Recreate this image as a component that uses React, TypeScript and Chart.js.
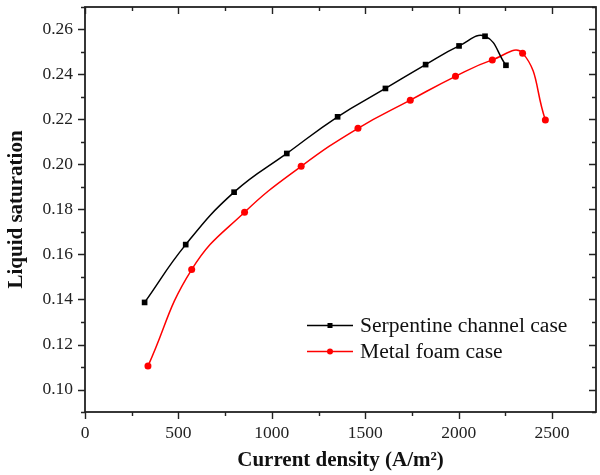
import { useEffect, useRef } from 'react';
import { Chart, registerables } from 'chart.js';

Chart.register(...registerables);

const seriesNames = ['Serpentine channel case', 'Metal foam case'];
const serpentineX = [319, 539, 798, 1080, 1352, 1608, 1823, 2002, 2141, 2253];
const serpentineY = [0.1387, 0.1644, 0.1877, 0.2049, 0.2212, 0.2338, 0.2444, 0.2527, 0.257, 0.2441];
const foamX = [337, 571, 854, 1157, 1461, 1741, 1983, 2180, 2342, 2464];
const foamY = [0.1104, 0.1533, 0.1788, 0.1992, 0.2161, 0.2286, 0.2392, 0.2465, 0.2495, 0.2198];
const xTicks = [0, 500, 1000, 1500, 2000, 2500];
const yTicks = [0.1, 0.12, 0.14, 0.16, 0.18, 0.2, 0.22, 0.24, 0.26];
const xMinorStep = 250;
const yMinorStep = 0.01;
const xTitle = 'Current density (A/m\u00B2)';
const yTitle = 'Liquid saturation';

const SERIF = '"Liberation Serif", "Times New Roman", serif';
const AXIS_COLOR = '#222';

const framePlugin = {
  id: 'frameTicks',
  afterDatasetsDraw(chart: any) {
    const { ctx, chartArea: a, scales } = chart;
    const x = scales.x;
    const y = scales.y;
    const major = 7;
    const minor = 4;
    ctx.save();
    ctx.strokeStyle = AXIS_COLOR;
    ctx.lineWidth = 1.4;
    ctx.beginPath();
    for (let v = xTicks[0]; v <= x.max + 1e-9; v += xMinorStep) {
      const isMajor = xTicks.some((t) => Math.abs(t - v) < 1e-6);
      const len = isMajor ? major : minor;
      const px = Math.round(x.getPixelForValue(v)) + 0.5;
      ctx.moveTo(px, a.bottom);
      ctx.lineTo(px, a.bottom + len);
      ctx.moveTo(px, a.top);
      ctx.lineTo(px, a.top + len);
    }
    const startY = yTicks[0] - Math.floor((yTicks[0] - y.min) / yMinorStep + 1e-6) * yMinorStep;
    for (let v = startY; v <= y.max + 1e-9; v += yMinorStep) {
      const isMajor = yTicks.some((t) => Math.abs(t - v) < 1e-6);
      const len = isMajor ? major : minor;
      const py = Math.round(y.getPixelForValue(v)) + 0.5;
      ctx.moveTo(a.left, py);
      ctx.lineTo(a.left - len, py);
      ctx.moveTo(a.right, py);
      ctx.lineTo(a.right - len, py);
    }
    ctx.stroke();
    ctx.lineWidth = 1.8;
    ctx.strokeRect(a.left, a.top, a.right - a.left, a.bottom - a.top);
    ctx.restore();
  },
  afterDraw(chart: any) {
    const { ctx } = chart;
    ctx.save();
    const rows = [325.5, 351.5];
    chart.data.datasets.forEach((ds: any, i: number) => {
      const cy = rows[i];
      ctx.strokeStyle = ds.borderColor;
      ctx.lineWidth = 1.5;
      ctx.beginPath();
      ctx.moveTo(307, cy);
      ctx.lineTo(353, cy);
      ctx.stroke();
      ctx.fillStyle = ds.borderColor;
      if (ds.pointStyle === 'rect') {
        ctx.fillRect(330 - 2.5, cy - 2.5, 5, 5);
      } else {
        ctx.beginPath();
        ctx.arc(330, cy, 3, 0, Math.PI * 2);
        ctx.fill();
      }
      ctx.fillStyle = '#111';
      ctx.font = '21.6px ' + SERIF;
      ctx.textAlign = 'left';
      ctx.textBaseline = 'middle';
      ctx.fillText(ds.label, 360, cy + 1);
    });
    ctx.restore();
  },
};

export default function App() {
  const ref = useRef<HTMLCanvasElement>(null);
  useEffect(() => {
    if (!ref.current) return;
    const chart = new Chart(ref.current, {
      type: 'scatter',
      data: {
        datasets: [
          {
            label: seriesNames[0],
            data: serpentineX.map((v, i) => ({ x: v, y: serpentineY[i] })),
            showLine: true,
            borderColor: '#000000',
            backgroundColor: '#000000',
            pointBackgroundColor: '#000000',
            pointBorderColor: '#000000',
            pointStyle: 'rect',
            pointRadius: 4,
            pointBorderWidth: 0,
            borderWidth: 1.5,
            tension: 0.45,
          },
          {
            label: seriesNames[1],
            data: foamX.map((v, i) => ({ x: v, y: foamY[i] })),
            showLine: true,
            borderColor: '#ff0000',
            backgroundColor: '#ff0000',
            pointBackgroundColor: '#ff0000',
            pointBorderColor: '#ff0000',
            pointStyle: 'circle',
            pointRadius: 3.5,
            pointBorderWidth: 0,
            borderWidth: 1.5,
            tension: 0.45,
          },
        ],
      },
      options: {
        animation: false,
        responsive: false,
        devicePixelRatio: 1,
        layout: { padding: { top: 7, right: -2, left: 0, bottom: 0 } },
        plugins: {
          legend: { display: false },
          tooltip: { enabled: false },
        },
        scales: {
          x: {
            type: 'linear',
            min: 0,
            max: 2735,
            grid: { display: false, drawTicks: false },
            border: { display: false },
            afterBuildTicks: (s: any) => {
              s.ticks = xTicks.map((v) => ({ value: v }));
            },
            afterFit: (s: any) => {
              s.height = 63;
              s.paddingLeft = 0;
              s.paddingRight = 0;
            },
            ticks: {
              padding: 11,
              maxRotation: 0,
              autoSkip: false,
              color: AXIS_COLOR,
              font: { family: SERIF, size: 17.5 },
              callback: (v: any) => String(v),
            },
            title: {
              display: true,
              text: xTitle,
              color: '#111',
              font: { family: SERIF, size: 21, weight: 'bold', lineHeight: 1 },
              padding: { top: 0, bottom: 3.5 },
            },
          },
          y: {
            type: 'linear',
            min: 0.09,
            max: 0.27,
            grid: { display: false, drawTicks: false },
            border: { display: false },
            afterBuildTicks: (s: any) => {
              s.ticks = yTicks.map((v) => ({ value: v }));
            },
            afterFit: (s: any) => {
              s.width = 85;
              s.paddingTop = 0;
              s.paddingBottom = 0;
            },
            ticks: {
              padding: 12,
              autoSkip: false,
              color: AXIS_COLOR,
              font: { family: SERIF, size: 17.5 },
              callback: (v: any) => Number(v).toFixed(2),
            },
            title: {
              display: true,
              text: yTitle,
              color: '#111',
              font: { family: SERIF, size: 21, weight: 'bold', lineHeight: 1 },
              padding: { top: 6, bottom: 0 },
            },
          },
        },
      },
      plugins: [framePlugin],
    });
    return () => chart.destroy();
  }, []);
  return (
    <div style={{ position: 'fixed', left: 0, top: 0, width: 600, height: 475, background: '#fff' }}>
      <canvas ref={ref} width={600} height={475} style={{ width: 600, height: 475, display: 'block' }} />
    </div>
  );
}
